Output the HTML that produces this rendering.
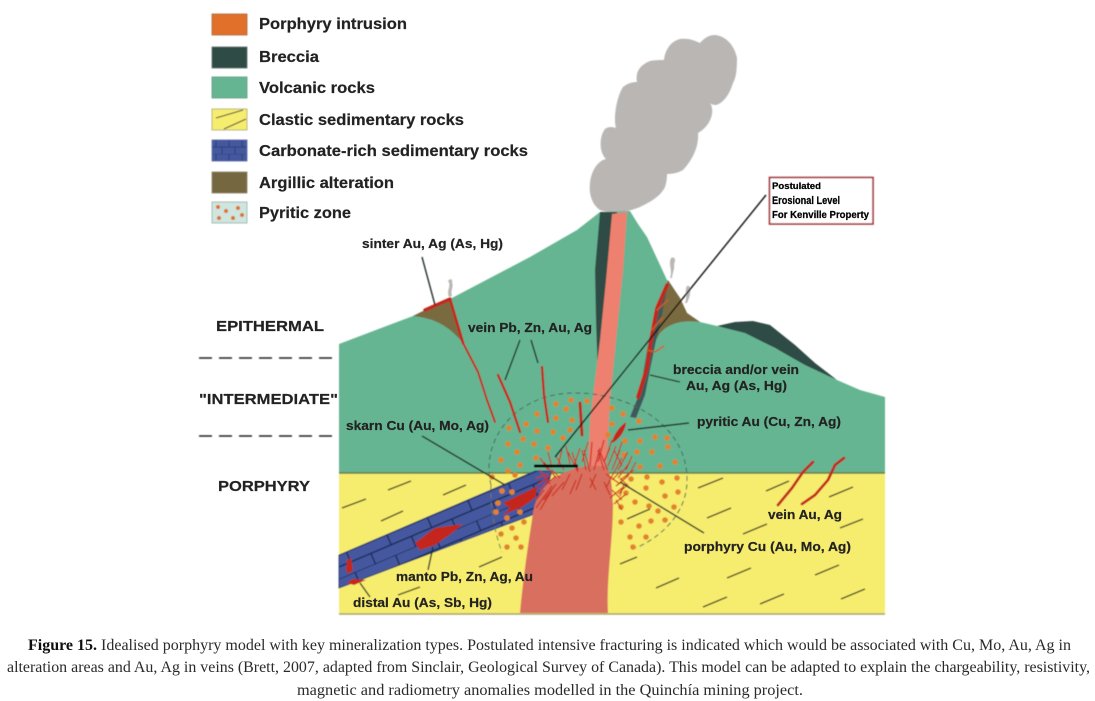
<!DOCTYPE html>
<html><head><meta charset="utf-8"><style>
html,body{margin:0;padding:0;background:#fff;width:1095px;height:701px;overflow:hidden}
svg{display:block}
.l{font-family:"Liberation Sans",sans-serif;font-weight:bold;fill:#222;stroke:#222;stroke-width:.2px}
.c{font-family:"Liberation Serif",serif;font-size:15.5px;fill:#2a2a2a}
</style></head><body>
<svg width="1095" height="701" viewBox="0 0 1095 701" xmlns="http://www.w3.org/2000/svg">
<defs>
<filter id="b" x="-5%" y="-5%" width="110%" height="110%"><feGaussianBlur stdDeviation="0.5"/></filter>
<filter id="t" x="-5%" y="-20%" width="110%" height="140%"><feGaussianBlur stdDeviation="0.3"/></filter>
<pattern id="brick" width="44" height="22" patternUnits="userSpaceOnUse" patternTransform="translate(339 555) rotate(-23)">
<rect width="44" height="22" fill="#44599f"/>
<path d="M0 0H44M0 11H44M8 0V11M30 11V22" stroke="#16224e" stroke-width="1.2" fill="none"/>
</pattern>
<pattern id="lb" width="13" height="14" patternUnits="userSpaceOnUse" patternTransform="translate(212 140)">
<rect width="13" height="14" fill="#44599f"/><path d="M0 0H13M0 7H13M4 0V7M10 7V14" stroke="#26366e" stroke-width=".8" fill="none"/>
</pattern>
</defs>
<g filter="url(#b)">
<!-- legend -->
<rect x="212" y="14" width="35" height="21" fill="#e0702a" stroke="#a8683e" stroke-width=".8"/>
<rect x="212" y="47" width="35" height="21" fill="#2f4c44" stroke="#5a6f68" stroke-width=".8"/>
<rect x="212" y="77" width="35" height="21" fill="#66b592" stroke="#5a9a80" stroke-width=".8"/>
<rect x="212" y="109" width="35" height="21" fill="#f6ec6e" stroke="#a8a878" stroke-width=".8"/>
<path d="M216 118L243 110M224 129L246 119" stroke="#444" stroke-width="1"/>
<rect x="212" y="140" width="35" height="21" fill="url(#lb)" stroke="#5a69a8" stroke-width=".8"/>
<rect x="212" y="172" width="35" height="21" fill="#74683f" stroke="#8d8468" stroke-width=".8"/>
<rect x="212" y="202" width="35" height="21" fill="#cfe5dd" stroke="#8fb0a5" stroke-width=".8"/>
<g fill="#e0702a"><circle cx="218" cy="207" r="2"/><circle cx="226" cy="211" r="2"/><circle cx="238" cy="208" r="2"/><circle cx="219" cy="218" r="2"/><circle cx="233" cy="218" r="2"/><circle cx="242" cy="215" r="2"/></g>
<!-- smoke -->
<path d="M600 210C590 203 589 190 590 183C591 172 597 161 606 159C598 151 600 135 605 129C609 126 613 127 616 128C613 118 617 96 623 87C628 83 633 82 637 82C635 72 640 65 650 61C656 60 660 60 664 60C665 50 671 41 680 39C690 38 695 41 700 43C705 37 710 35 715 35C725 36 734 44 737 58C737 70 736 78 733 83C730 93 724 103 716 105C713 105 711 104 710 103C715 110 712 125 698 133C699 145 694 158 683 170C678 173 672 174 667 174C667 180 666 184 665 187C660 197 650 202 640 207C625 213 610 214 600 210Z" fill="#bab6b3"/>
<path d="M449 297C446 290 452 286 448 281C450 278 453 279 452 282C454 287 450 291 452 296Z" fill="#bab6b3"/>
<path d="M670 278C673 270 668 265 671 258C675 256 676 260 674 264C675 269 672 274 672 278Z" fill="#bab6b3"/>
<path d="M685 303C688 296 684 292 687 286C691 285 691 290 690 293C690 297 688 300 687 303Z" fill="#bab6b3"/>
<!-- yellow + green -->
<rect x="339" y="473" width="546" height="141" fill="#f6ec6e"/>
<path d="M339 614H885" stroke="#a8a36a" stroke-width="1.6"/>
<path d="M717 326L735 322L753 321L770 325L795 345L815 363L837 380L808 368L775 348L745 334Z" fill="#2f4c44"/>
<path d="M339 344L413 316L425 310L450 299L490 278L530 257L577 230L600 212L630 211L638 224L647 237L667 280L680 298L687 313L700 322L717 326L745 333L775 348L805 365L837 380L860 390L885 397V473H339Z" fill="#66b592"/>
<path d="M339 473H885" stroke="#66794a" stroke-width="1.4"/>
<!-- alteration -->
<path d="M413 316L425 310L450 299L463 343C450 327 435 318 413 316Z" fill="#7a6a40"/>
<path d="M668 280L680 298L687 313L700 322C685 320 670 322 660 333L653 345L650 335Z" fill="#7a6a40"/>
<!-- breccia pipe -->
<path d="M600 212H617L612 270L605 320L598 378L596 320L595 270Z" fill="#2f4c44"/>
<path d="M668 283L655 310L648 345L640 392L630 417L636 418L645 395L655 345L662 315Z" fill="#3c5a5a"/>
<!-- carbonate -->
<path d="M339 555L535 471H552L546 492L532 515L339 588Z" fill="url(#brick)" stroke="#26366e" stroke-width=".8"/>
<!-- intrusion -->
<path d="M612 214L627 212L623 270L618 320L610 400L606 470H588L590 420L600 340L606 280Z" fill="#ee8070"/>
<path d="M520 613C523 580 528 545 532 520C534 500 540 490 552 480C565 470 580 466 592 466H606C612 475 612 490 613 505C613 540 606 580 608 613Z" fill="#d9705f"/>
<!-- dashed zone -->
<path d="M491 485C480 440 515 393 575 393C630 393 686 425 687 478C688 510 665 535 636 548" fill="none" stroke="#3f6a5c" stroke-width="1" stroke-dasharray="5 3.5"/>
<path d="M491 485C490 505 495 535 502 552" fill="none" stroke="#6f7a55" stroke-width="1" stroke-dasharray="5 3.5"/>
<!-- dots -->
<g fill="#e2822a">
<circle cx="509" cy="428" r="2.8"/><circle cx="526" cy="424" r="2.8"/><circle cx="537" cy="414" r="2.8"/><circle cx="556" cy="404" r="2.8"/><circle cx="566" cy="409" r="2.8"/><circle cx="571" cy="400" r="2.8"/><circle cx="587" cy="401" r="2.8"/><circle cx="556" cy="418" r="2.8"/><circle cx="572" cy="420" r="2.8"/><circle cx="537" cy="431" r="2.8"/><circle cx="553" cy="432" r="2.8"/><circle cx="570" cy="430" r="2.8"/>
<circle cx="508" cy="444" r="2.8"/><circle cx="523" cy="439" r="2.8"/><circle cx="534" cy="444" r="2.8"/><circle cx="563" cy="438" r="2.8"/><circle cx="548" cy="448" r="2.8"/><circle cx="517" cy="452" r="2.8"/><circle cx="501" cy="460" r="2.8"/><circle cx="520" cy="465" r="2.8"/><circle cx="536" cy="458" r="2.8"/><circle cx="508" cy="471" r="2.8"/><circle cx="492" cy="477" r="2.8"/><circle cx="515" cy="475" r="2.8"/><circle cx="502" cy="491" r="2.8"/><circle cx="512" cy="492" r="2.8"/><circle cx="498" cy="503" r="2.8"/><circle cx="496" cy="512" r="2.8"/><circle cx="507" cy="518" r="2.8"/><circle cx="512" cy="528" r="2.8"/><circle cx="524" cy="522" r="2.8"/><circle cx="501" cy="534" r="2.8"/><circle cx="516" cy="538" r="2.8"/><circle cx="507" cy="547" r="2.8"/><circle cx="521" cy="547" r="2.8"/><circle cx="520" cy="512" r="2.8"/>
<circle cx="612" cy="408" r="2.8"/><circle cx="623" cy="414" r="2.8"/><circle cx="639" cy="421" r="2.8"/><circle cx="612" cy="424" r="2.8"/><circle cx="625" cy="441" r="2.8"/><circle cx="640" cy="441" r="2.8"/><circle cx="655" cy="437" r="2.8"/><circle cx="667" cy="438" r="2.8"/><circle cx="668" cy="447" r="2.8"/><circle cx="608" cy="435" r="2.8"/>
<circle cx="624" cy="455" r="2.8"/><circle cx="637" cy="452" r="2.8"/><circle cx="652" cy="452" r="2.8"/><circle cx="675" cy="462" r="2.8"/><circle cx="660" cy="466" r="2.8"/><circle cx="640" cy="467" r="2.8"/><circle cx="631" cy="479" r="2.8"/><circle cx="647" cy="477" r="2.8"/><circle cx="662" cy="482" r="2.8"/><circle cx="677" cy="478" r="2.8"/><circle cx="646" cy="488" r="2.8"/><circle cx="665" cy="496" r="2.8"/><circle cx="678" cy="492" r="2.8"/><circle cx="626" cy="493" r="2.8"/><circle cx="635" cy="502" r="2.8"/><circle cx="649" cy="506" r="2.8"/><circle cx="658" cy="511" r="2.8"/><circle cx="674" cy="507" r="2.8"/><circle cx="621" cy="507" r="2.8"/><circle cx="621" cy="522" r="2.8"/><circle cx="639" cy="526" r="2.8"/><circle cx="651" cy="521" r="2.8"/><circle cx="665" cy="520" r="2.8"/><circle cx="630" cy="537" r="2.8"/><circle cx="646" cy="537" r="2.8"/><circle cx="633" cy="547" r="2.8"/>
</g>
<!-- sediment dashes -->
<path d="M342 508L366 499M381 521L403 511M443 495L466 485M388 490L411 481M479 567L502 557M398 595L420 587M698 488L723 478M766 491L789 481M829 497L853 487M707 518L731 508M743 534L767 524M840 528L863 519M627 519L650 509M620 564L637 557M727 578L751 568M815 575L839 565M656 588L679 578M703 607L727 597M760 604L784 594M841 599L865 589" stroke="#3a3a22" stroke-width="1.4" fill="none"/>
<!-- red features -->
<g fill="none" stroke="#c4261f" stroke-linecap="round" stroke-linejoin="round">
<path d="M425 310L450 299" stroke-width="3.4"/>
<path d="M450 299L463 343" stroke-width="2.8"/>
<path d="M463 343L478 372L487 400L495 422" stroke-width="2"/>
<path d="M498 375L510 402L520 432" stroke-width="2.4"/>
<path d="M542 367L544 395L548 422" stroke-width="2.4"/>
<path d="M580 403L582 435" stroke-width="3"/>
<path d="M667 285L657 308L651 340L647 368L638 397" stroke-width="3.8"/>
<path d="M647 350L655 352L664 346M657 310L668 300M652 330L662 318" stroke="#cf5a25" stroke-width="1.5"/>
<path d="M778 505L792 488L803 472L813 462" stroke-width="2.8"/>
<path d="M802 504L815 495L828 480L835 465L844 458" stroke-width="2.8"/>
</g>
<path d="M612 443C613 435 620 426 626 422C626 430 619 440 612 443Z" fill="#c4261f"/>
<path d="M503 503L538 486L535 498L522 507L503 515L510 508Z" fill="#c4261f"/>
<path d="M415 543L435 528L463 524L452 533L435 545L420 550Z" fill="#c4261f"/>
<path d="M347 560L351 558L353 570L348 574L346 570Z" fill="#c4261f"/>
<path d="M347 583L353 579L366 580L354 585Z" fill="#c4261f"/>
<!-- fracture spikes -->
<path d="M548 470L540 458M552 468L548 452M556 476L546 484M558 466L562 450M564 470L556 456M570 464L566 446M574 466L580 448M578 470L572 452M582 462L588 442M586 470L582 450M590 466L592 442M594 470L600 448M598 462L604 440M604 470L598 450M606 458L612 440M608 466L616 446M612 470L620 450M616 460L622 442M618 470L628 452M622 466L614 450M626 470L632 456M628 476L636 462M612 480L622 470M616 486L628 476M618 494L628 484M612 490L622 500M616 500L622 510M612 476L606 488M604 482L610 495M596 474L590 488M590 478L596 490M582 474L576 490M576 480L570 494M570 474L562 490M564 482L552 496M556 484L544 500M548 480L540 490M544 490L536 500M552 490L540 510M560 478L552 470M536 478L548 474M620 478L630 488M624 484L620 496M600 452L608 470M584 450L590 472M568 452L578 472M610 448L604 462M540 470L550 484M544 462L556 478M538 484L550 476M542 500L552 486M536 508L546 494M606 474L620 484M610 498L622 488M614 504L626 494M622 458L612 476M630 462L618 478M634 470L620 480" fill="none" stroke="#cc2f22" stroke-width="1.2"/>
<!-- leaders -->
<path d="M422 257L435 305M520 340L505 380M531 340L538 363M650 375L680 382M628 430L689 423M422 436L505 485M620 482L704 533M433 547L428 570M360 583L370 597" stroke="#1f2b25" stroke-width="1.4" fill="none"/>
<path d="M766 195L555 457" stroke="#111" stroke-width="1.4" fill="none"/>
<path d="M534 466H578" stroke="#000" stroke-width="3"/>
<!-- box -->
<rect x="769.500" y="177.500" width="103.500" height="46.500" fill="#fff" stroke="#a02f38" stroke-width="1.6"/>
<path d="M199 358H338M199 436H338" stroke="#222" stroke-width="1.6" stroke-dasharray="13 7"/>
</g>
<g filter="url(#t)">
<text class="l" x="259" y="29" font-size="15.500" textLength="148" lengthAdjust="spacingAndGlyphs">Porphyry intrusion</text>
<text class="l" x="259" y="62" font-size="15.500" textLength="60" lengthAdjust="spacingAndGlyphs">Breccia</text>
<text class="l" x="259" y="93" font-size="15.500" textLength="116" lengthAdjust="spacingAndGlyphs">Volcanic rocks</text>
<text class="l" x="259" y="125" font-size="15.500" textLength="205" lengthAdjust="spacingAndGlyphs">Clastic sedimentary rocks</text>
<text class="l" x="259" y="156" font-size="15.500" textLength="269" lengthAdjust="spacingAndGlyphs">Carbonate-rich sedimentary rocks</text>
<text class="l" x="259" y="188" font-size="15.500" textLength="135" lengthAdjust="spacingAndGlyphs">Argillic alteration</text>
<text class="l" x="259" y="218" font-size="15.500" textLength="92" lengthAdjust="spacingAndGlyphs">Pyritic zone</text>
<text class="l" x="216" y="331" font-size="15" textLength="108" lengthAdjust="spacingAndGlyphs">EPITHERMAL</text>
<text class="l" x="199" y="404" font-size="15" textLength="139" lengthAdjust="spacingAndGlyphs">"INTERMEDIATE"</text>
<text class="l" x="218" y="491" font-size="15" textLength="92" lengthAdjust="spacingAndGlyphs">PORPHYRY</text>
<text class="l" x="362" y="248" font-size="13" textLength="141" lengthAdjust="spacingAndGlyphs">sinter Au, Ag (As, Hg)</text>
<text class="l" x="468" y="332" font-size="13" textLength="124" lengthAdjust="spacingAndGlyphs">vein Pb, Zn, Au, Ag</text>
<text class="l" x="346" y="430" font-size="13" textLength="143" lengthAdjust="spacingAndGlyphs">skarn Cu (Au, Mo, Ag)</text>
<text class="l" x="673" y="374" font-size="13" textLength="126" lengthAdjust="spacingAndGlyphs">breccia and/or vein</text>
<text class="l" x="686" y="390" font-size="13" textLength="101" lengthAdjust="spacingAndGlyphs">Au, Ag (As, Hg)</text>
<text class="l" x="697" y="426" font-size="13" textLength="144" lengthAdjust="spacingAndGlyphs">pyritic Au (Cu, Zn, Ag)</text>
<text class="l" x="396" y="581" font-size="13" textLength="137" lengthAdjust="spacingAndGlyphs">manto Pb, Zn, Ag, Au</text>
<text class="l" x="353" y="607" font-size="13" textLength="139" lengthAdjust="spacingAndGlyphs">distal Au (As, Sb, Hg)</text>
<text class="l" x="768" y="519" font-size="13" textLength="74" lengthAdjust="spacingAndGlyphs">vein Au, Ag</text>
<text class="l" x="684" y="551" font-size="13" textLength="167" lengthAdjust="spacingAndGlyphs">porphyry Cu (Au, Mo, Ag)</text>
<text x="772" y="189" font-family="Liberation Sans,sans-serif" font-weight="bold" font-size="9" fill="#000" stroke="#000" stroke-width=".25" textLength="49" lengthAdjust="spacingAndGlyphs">Postulated</text>
<text x="772" y="204" font-family="Liberation Sans,sans-serif" font-weight="bold" font-size="11" fill="#000" stroke="#000" stroke-width=".25" textLength="68" lengthAdjust="spacingAndGlyphs">Erosional Level</text>
<text x="772" y="218" font-family="Liberation Sans,sans-serif" font-weight="bold" font-size="10" fill="#000" stroke="#000" stroke-width=".25" textLength="97" lengthAdjust="spacingAndGlyphs">For Kenville Property</text>
<text class="c" x="28" y="650" textLength="1043" lengthAdjust="spacingAndGlyphs"><tspan font-weight="bold" fill="#111">Figure 15.</tspan> Idealised porphyry model with key mineralization types. Postulated intensive fracturing is indicated which would be associated with Cu, Mo, Au, Ag in</text>
<text class="c" x="7" y="672" textLength="1083" lengthAdjust="spacingAndGlyphs">alteration areas and Au, Ag in veins (Brett, 2007, adapted from Sinclair, Geological Survey of Canada). This model can be adapted to explain the chargeability, resistivity,</text>
<text class="c" x="297" y="695" textLength="506" lengthAdjust="spacingAndGlyphs">magnetic and radiometry anomalies modelled in the Quinchía mining project.</text>
</g>
</svg>
</body></html>
